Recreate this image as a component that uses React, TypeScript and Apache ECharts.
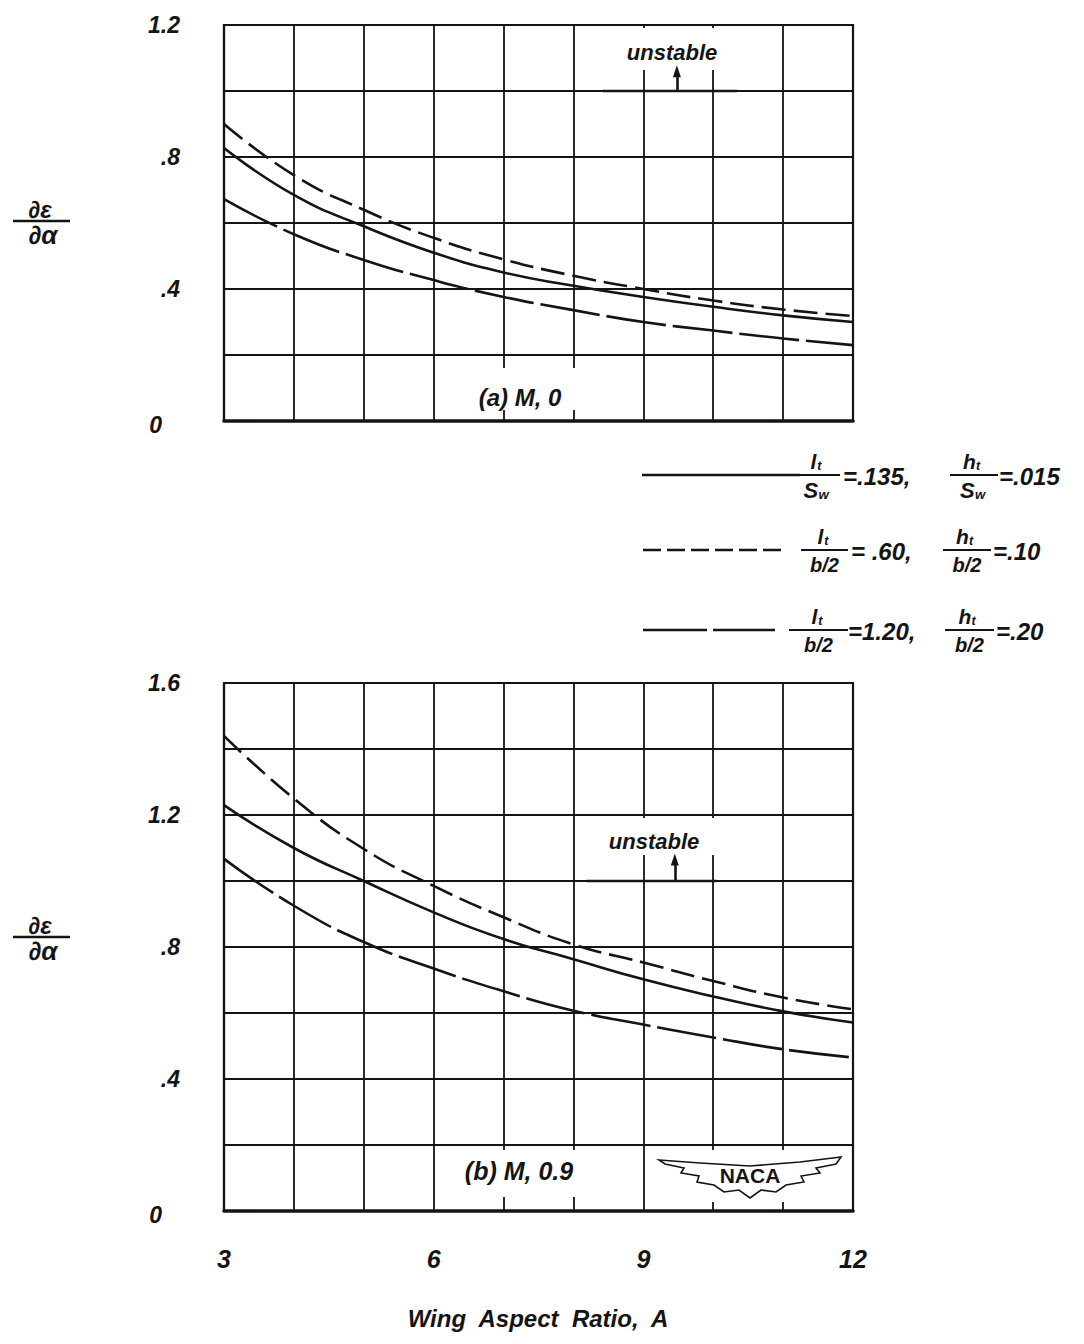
import React, { useEffect, useRef } from 'react';
import * as echarts from 'echarts';

// ---------- data ----------
const aspectRatios = [3, 4, 5, 6, 7, 8, 9, 10, 11, 12];

// (a) M = 0
const topSolid = [0.827, 0.685, 0.59, 0.51, 0.45, 0.41, 0.376, 0.346, 0.32, 0.3];
const topDashed = [0.9, 0.745, 0.64, 0.555, 0.49, 0.44, 0.4, 0.365, 0.338, 0.318];
const topLongDash = [0.672, 0.566, 0.488, 0.427, 0.376, 0.336, 0.3, 0.274, 0.25, 0.23];

// (b) M = 0.9
const botSolid = [1.23, 1.1, 1.0, 0.905, 0.824, 0.763, 0.702, 0.65, 0.605, 0.571];
const botDashed = [1.44, 1.25, 1.097, 0.985, 0.89, 0.808, 0.753, 0.697, 0.647, 0.611];
const botLongDash = [1.067, 0.925, 0.815, 0.735, 0.666, 0.607, 0.565, 0.526, 0.49, 0.465];

const xTickValues = [3, 6, 9, 12];
const xTickLabels = ['3', '6', '9', '12'];
const topYTickValues = [0, 0.4, 0.8, 1.2];
const topYTickLabels = ['{z|0}', '.4', '.8', '1.2'];
const botYTickValues = [0, 0.4, 0.8, 1.2, 1.6];
const botYTickLabels = ['{z|0}', '.4', '.8', '1.2', '1.6'];

// "unstable" boundary marks: [x start, x end, y level, arrow x, arrow tip y]
const unstableTop = [8.42, 10.34, 1.0, 9.48, 1.06];
const unstableBot = [8.19, 10.05, 1.0, 9.45, 1.065];

const panelLabels = ['(a) M, 0', '(b) M, 0.9'];
const xAxisTitle = 'Wing  Aspect  Ratio,  A';

// ---------- styles ----------
const INK = '#141414';
const FONT = '"Liberation Sans", Arial, sans-serif';
const DASH_SHORT = [24, 8];
const DASH_LONG = [60, 7];

const pick = (vals: number[], labels: string[]) => (v: number) => {
  const i = vals.findIndex((t) => Math.abs(t - v) < 1e-6);
  return i >= 0 ? labels[i] : '';
};

const pairs = (ys: number[]) => ys.map((y, i) => [aspectRatios[i], y]);

function txt(text: string, x: number, y: number, size: number, align = 'left', extra: any = {}) {
  return {
    type: 'text',
    x,
    y,
    z: 5,
    style: {
      text,
      fill: INK,
      fontSize: size,
      fontFamily: FONT,
      fontWeight: 'bold',
      fontStyle: 'italic',
      align,
      verticalAlign: 'middle',
      ...extra,
    },
  };
}

function hline(x1: number, x2: number, y: number, w = 2.2, dash: any = null) {
  return {
    type: 'line',
    z: 5,
    shape: { x1, y1: y, x2, y2: y },
    style: { stroke: INK, lineWidth: w, lineDash: dash },
  };
}

function whiteRect(x: number, y: number, w: number, h: number) {
  return { type: 'rect', z: 1, shape: { x, y, width: w, height: h }, style: { fill: '#fff' } };
}

const SUB_OFFSET: Record<string, number> = { l: 0.32, h: 0.62, S: 0.68 };

// a subscripted symbol such as l_t
function subSym(main: string, sub: string, x: number, y: number, size: number) {
  return [
    txt(main, x, y, size, 'left'),
    txt(sub, x + size * (SUB_OFFSET[main] || 0.5), y + size * 0.22, size * 0.6, 'left'),
  ];
}

function legendRow(
  y: number,
  lineX1: number,
  lineX2: number,
  dash: any,
  f1: { barX1: number; barX2: number; num: [string, string]; den: any },
  eq1: [string, number],
  f2: { barX1: number; barX2: number; num: [string, string]; den: any },
  eq2: [string, number]
) {
  const els: any[] = [hline(lineX1, lineX2, y, 2.4, dash)];
  const frac = (f: any) => {
    const cx = (f.barX1 + f.barX2) / 2;
    els.push(hline(f.barX1, f.barX2, y, 2.2));
    const nOff = f.num[0] === 'h' ? 11 : 7;
    els.push(...subSym(f.num[0], f.num[1], cx - nOff, y - 14, 21));
    if (Array.isArray(f.den)) {
      els.push(...subSym(f.den[0], f.den[1], cx - 14, y + 15, 22));
    } else {
      els.push(txt(f.den, cx, y + 15, 20, 'center'));
    }
  };
  frac(f1);
  els.push(txt(eq1[0], eq1[1], y + 1, 24, 'left'));
  frac(f2);
  els.push(txt(eq2[0], eq2[1], y + 1, 24, 'left'));
  return els;
}

function dEdA(cy: number) {
  return [
    txt('\u2202\u03b5', 40, cy - 12, 24, 'center'),
    hline(13, 70, cy, 2.6),
    txt('\u2202\u03b1', 43, cy + 14, 26, 'center'),
  ];
}

function nacaLogo() {
  const pts = [
    [659, 1160], [700, 1163], [750, 1166], [800, 1162], [841, 1157], [836, 1164], [816, 1168],
    [820, 1173], [801, 1176], [804, 1182], [786, 1185], [776, 1192], [761, 1190], [750, 1198],
    [739, 1190], [724, 1192], [714, 1185], [697, 1182], [699, 1176], [681, 1173], [684, 1168],
    [665, 1164],
  ];
  return [
    whiteRect(652, 1150, 196, 52),
    {
      type: 'polygon',
      z: 4,
      shape: { points: pts },
      style: { fill: '#fff', stroke: INK, lineWidth: 1.6 },
    },
    {
      type: 'text',
      x: 750,
      y: 1175,
      z: 6,
      style: {
        text: 'NACA',
        fill: INK,
        fontSize: 21,
        fontFamily: '"Liberation Sans Narrow", "Liberation Sans", Arial, sans-serif',
        fontWeight: 'bold',
        align: 'center',
        verticalAlign: 'middle',
      },
    },
  ];
}

function unstableSeries(u: number[], xi: number) {
  return {
    type: 'line',
    xAxisIndex: xi,
    yAxisIndex: xi,
    data: [
      [u[0], u[2]],
      [u[1], u[2]],
    ],
    symbol: 'none',
    z: 3,
    lineStyle: { color: INK, width: 2.6 },
    markLine: {
      silent: true,
      symbol: ['none', 'triangle'],
      symbolSize: [8, 12],
      label: { show: false },
      lineStyle: { color: INK, width: 2.6, type: 'solid' },
      data: [[{ coord: [u[3], u[2]] }, { coord: [u[3], u[4]] }]],
    },
  };
}

function curve(ys: number[], idx: number, dash: any) {
  return {
    type: 'line',
    xAxisIndex: idx,
    yAxisIndex: idx,
    data: pairs(ys),
    smooth: 0.5,
    symbol: 'none',
    z: 3,
    lineStyle: { color: INK, width: 2.6, type: dash },
  };
}

const axisFont = { color: INK, fontFamily: FONT, fontWeight: 'bold', fontStyle: 'italic', fontSize: 23 };

function xAx(idx: number, labels: boolean) {
  return {
    gridIndex: idx,
    type: 'value',
    min: 3,
    max: 12,
    interval: 1,
    axisTick: { show: false },
    axisLine: { show: true, onZero: false, lineStyle: { color: INK, width: 3.6 } },
    splitLine: { show: true, lineStyle: { color: INK, width: 1.8 } },
    axisLabel: labels
      ? { show: true, margin: 35, formatter: pick(xTickValues, xTickLabels), ...axisFont, fontSize: 25 }
      : { show: false },
  };
}

function yAx(idx: number, max: number, vals: number[], labels: string[]) {
  return {
    gridIndex: idx,
    type: 'value',
    min: 0,
    max,
    interval: 0.2,
    axisTick: { show: false },
    axisLine: { show: true, lineStyle: { color: INK, width: 2.2 } },
    splitLine: { show: true, lineStyle: { color: INK, width: 1.8 } },
    axisLabel: {
      show: true,
      margin: 44,
      formatter: pick(vals, labels),
      ...axisFont,
      rich: {
        z: { ...axisFont, padding: [8, 18, 0, 0] },
      },
    },
  };
}

export default function App() {
  const ref = useRef<HTMLDivElement>(null);

  useEffect(() => {
    if (!ref.current) return;
    const chart = echarts.init(ref.current, null, { renderer: 'svg' });

    const graphic: any[] = [
      // gaps in the grid behind annotations
      whiteRect(608, 28, 130, 42),
      whiteRect(590, 818, 130, 37),
      whiteRect(456, 368, 136, 42),
      whiteRect(436, 1150, 166, 47),
      txt('unstable', 672, 52, 22, 'center'),
      txt('unstable', 654, 841, 22, 'center'),
      txt(panelLabels[0], 520, 397, 24, 'center'),
      txt(panelLabels[1], 519, 1171, 25, 'center'),
      ...nacaLogo(),
      ...dEdA(221),
      ...dEdA(937),
      txt(xAxisTitle, 538, 1318, 24, 'center'),
      ...legendRow(
        475,
        642,
        800,
        null,
        { barX1: 795, barX2: 840, num: ['l', 't'], den: ['S', 'w'] },
        ['=.135,', 843],
        { barX1: 950, barX2: 998, num: ['h', 't'], den: ['S', 'w'] },
        ['=.015', 999]
      ),
      ...legendRow(
        550,
        643,
        783,
        [18, 6],
        { barX1: 801, barX2: 848, num: ['l', 't'], den: 'b/2' },
        ['= .60,', 851],
        { barX1: 943, barX2: 991, num: ['h', 't'], den: 'b/2' },
        ['=.10', 993]
      ),
      ...legendRow(
        630,
        643,
        775,
        [64, 6],
        { barX1: 789, barX2: 848, num: ['l', 't'], den: 'b/2' },
        ['=1.20,', 848],
        { barX1: 945, barX2: 994, num: ['h', 't'], den: 'b/2' },
        ['=.20', 996]
      ),
    ];

    chart.setOption({
      animation: false,
      backgroundColor: '#ffffff',
      grid: [
        { left: 224, top: 25, width: 629, height: 396, show: true, borderColor: INK, borderWidth: 2.2, backgroundColor: 'transparent' },
        { left: 224, top: 683, width: 629, height: 528, show: true, borderColor: INK, borderWidth: 2.2, backgroundColor: 'transparent' },
      ],
      xAxis: [xAx(0, false), xAx(1, true)],
      yAxis: [yAx(0, 1.2, topYTickValues, topYTickLabels), yAx(1, 1.6, botYTickValues, botYTickLabels)],
      series: [
        curve(topSolid, 0, 'solid'),
        curve(topDashed, 0, DASH_SHORT),
        curve(topLongDash, 0, DASH_LONG),
        curve(botSolid, 1, 'solid'),
        curve(botDashed, 1, DASH_SHORT),
        curve(botLongDash, 1, DASH_LONG),
        unstableSeries(unstableTop, 0),
        unstableSeries(unstableBot, 1),
      ],
      graphic,
    });

    return () => chart.dispose();
  }, []);

  return (
    <div
      ref={ref}
      style={{ position: 'absolute', left: 0, top: 0, width: 1084, height: 1344, background: '#fff' }}
    />
  );
}
